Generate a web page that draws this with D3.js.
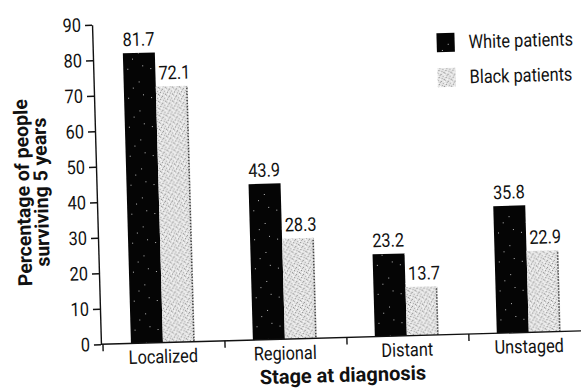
<!DOCTYPE html>
<html>
<head>
<meta charset="utf-8">
<script src="https://cdn.jsdelivr.net/npm/d3@7"></script>
<style>
  html, body { margin: 0; padding: 0; background: #fff; }
  svg { display: block; }
  text { font-family: Roboto, "Noto Sans", "DejaVu Sans", sans-serif; fill: #111; }
</style>
</head>
<body>
<svg id="chart" width="581" height="390"></svg>
<script>
// Five-year survival by stage at diagnosis
const stages = ["Localized", "Regional", "Distant", "Unstaged"];
const seriesNames = ["White patients", "Black patients"];
const whiteValues = [81.7, 43.9, 23.2, 35.8];
const blackValues = [72.1, 28.3, 13.7, 22.9];
const yTicks = [0, 10, 20, 30, 40, 50, 60, 70, 80, 90];
const yTitleLines = ["Percentage of people", "surviving 5 years"];
const xTitle = "Stage at diagnosis";

const rows = stages.map((s, i) => ({ stage: s, values: [whiteValues[i], blackValues[i]] }));

const svg = d3.select("#chart");
const W = 581, H = 390;

// Layout
const axisX = 97, baseY = 338.7, topY = 19;
const fontSize = 19;
const narrow = 0.86; // horizontal squeeze for a condensed look

// squeeze a text horizontally about its own x anchor
function condense(sel, s = narrow) {
  sel.each(function () {
    const t = d3.select(this);
    const x0 = +t.attr("x") || 0;
    t.attr("transform", `translate(${x0},0) scale(${s},1) translate(${-x0},0)`);
  });
}

// Fills: solid dark with a few specks, and a light stipple
const defs = svg.append("defs");
const dark = defs.append("pattern").attr("id", "darkFill")
  .attr("patternUnits", "userSpaceOnUse").attr("width", 23).attr("height", 29);
dark.append("rect").attr("width", 23).attr("height", 29).attr("fill", "#050505");
[[4, 6], [15, 19], [9, 25], [19, 3]].forEach(([x, y]) =>
  dark.append("rect").attr("x", x).attr("y", y).attr("width", 1).attr("height", 1).attr("fill", "#bbb"));

const stip = defs.append("pattern").attr("id", "stippleFill")
  .attr("patternUnits", "userSpaceOnUse").attr("width", 7).attr("height", 7);
stip.append("rect").attr("width", 7).attr("height", 7).attr("fill", "#e4e4e4");
[[0, 0], [3, 1], [5, 3], [1, 4], [4, 5], [6, 6], [2, 2]].forEach(([x, y], k) =>
  stip.append("rect").attr("x", x).attr("y", y).attr("width", 1).attr("height", 1)
    .attr("fill", k % 2 ? "#8a8a8a" : "#a8a8a8"));
[[2, 6], [6, 1], [0, 3]].forEach(([x, y]) =>
  stip.append("rect").attr("x", x).attr("y", y).attr("width", 1).attr("height", 1).attr("fill", "#fff"));

const fills = ["url(#darkFill)", "url(#stippleFill)"];

// Whole figure sits slightly tilted on the page
const g = svg.append("g").attr("transform", "rotate(-1.6, 300, 200)");

const x = d3.scaleBand().domain(stages).range([98, 586]).padding(0);
const pairW = 64;
const x1 = d3.scaleBand().domain(seriesNames).range([0, pairW]).padding(0);
const y = d3.scaleLinear().domain([0, 90]).range([baseY, topY]);

// Bars
const groups = g.selectAll("g.stage").data(rows).join("g")
  .attr("class", "stage")
  .attr("transform", d => `translate(${x(d.stage) + (x.bandwidth() - pairW) / 2},0)`);

groups.selectAll("rect.bar").data(d => d.values.map((v, i) => ({ v, i })))
  .join("rect").attr("class", "bar")
  .attr("x", d => x1(seriesNames[d.i]))
  .attr("width", x1.bandwidth())
  .attr("y", d => y(d.v))
  .attr("height", d => y(0) - y(d.v))
  .attr("fill", d => fills[d.i]);

// darker dotted right edge on the stippled bars
groups.selectAll("line.edge").data(d => [d.values[1]])
  .join("line").attr("class", "edge")
  .attr("x1", x1(seriesNames[1]) + x1.bandwidth() - 1)
  .attr("x2", x1(seriesNames[1]) + x1.bandwidth() - 1)
  .attr("y1", d => y(d) + 2).attr("y2", y(0))
  .attr("stroke", "#444").attr("stroke-width", 1.5).attr("stroke-dasharray", "1.5 1.5");

// Value labels
groups.selectAll("text.val").data(d => d.values.map((v, i) => ({ v, i })))
  .join("text").attr("class", "val")
  .attr("x", d => x1(seriesNames[d.i]) + x1.bandwidth() / 2 + (d.i ? 3 : 0))
  .attr("y", d => y(d.v) - 7)
  .attr("text-anchor", "middle")
  .style("font-size", fontSize + "px")
  .text(d => d.v.toFixed(1))
  .call(condense);

// Y axis
const yAxis = g.append("g").attr("transform", `translate(${axisX},0)`)
  .call(d3.axisLeft(y).tickValues(yTicks).tickSize(7).tickSizeOuter(0).tickPadding(4));
yAxis.selectAll("text").style("font-size", fontSize + "px").attr("fill", "#111").call(condense);
yAxis.selectAll("path, line").attr("stroke", "#111").attr("stroke-width", 1.4);

// X axis: labels at band centres, ticks at band edges
const xAxis = g.append("g").attr("transform", `translate(0,${baseY})`)
  .call(d3.axisBottom(x).tickSize(0).tickSizeOuter(0).tickPadding(7));
xAxis.select("path.domain").attr("d", `M${axisX},0H${W + 10}`)
  .attr("stroke", "#111").attr("stroke-width", 1.4);
xAxis.selectAll("text").style("font-size", fontSize + "px").attr("fill", "#111").call(condense);
xAxis.selectAll("line.edge-tick").data(stages).join("line")
  .attr("class", "edge-tick")
  .attr("x1", d => x(d) + 1).attr("x2", d => x(d) + 1)
  .attr("y1", 0).attr("y2", 7)
  .attr("stroke", "#111").attr("stroke-width", 1.4);

// Axis titles
g.append("text")
  .attr("x", 338).attr("y", 383)
  .attr("text-anchor", "middle")
  .style("font-size", "20px").style("font-weight", "bold")
  .text(xTitle);

const yTitle = g.append("text")
  .attr("transform", "translate(30,185) rotate(-90)")
  .attr("text-anchor", "middle")
  .style("font-size", "19.5px").style("font-weight", "bold");
yTitle.selectAll("tspan").data(yTitleLines).join("tspan")
  .attr("x", 0).attr("dy", (d, i) => i ? 18 : 0)
  .text(d => d);

// Legend
const legend = g.append("g");
seriesNames.forEach((name, i) => {
  const cy = 46.6 + i * 35;
  legend.append("rect")
    .attr("x", 441).attr("y", cy - 9.5)
    .attr("width", 18).attr("height", 19)
    .attr("fill", fills[i]);
  legend.append("text")
    .attr("x", 473).attr("y", cy + 6.5)
    .style("font-size", fontSize + "px")
    .text(name)
    .call(condense);
});
</script>
</body>
</html>
